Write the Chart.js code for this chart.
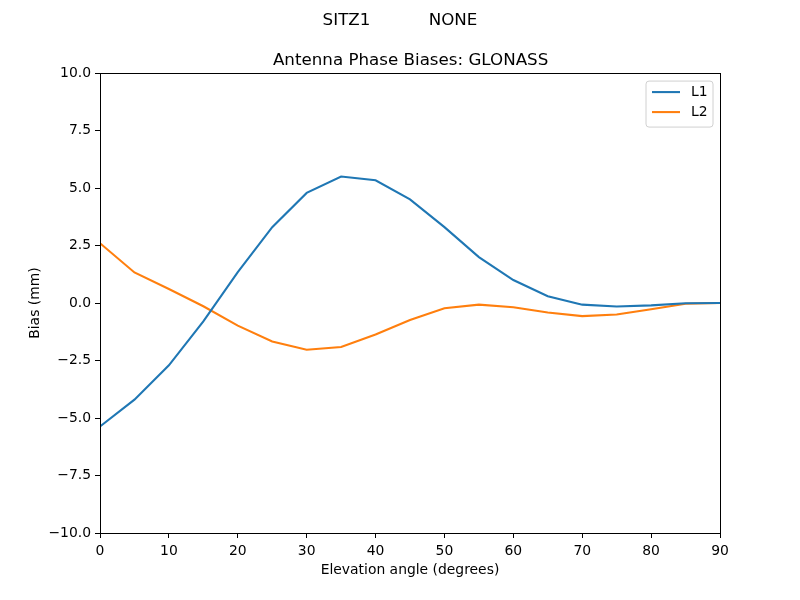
<!DOCTYPE html>
<html>
<head>
<meta charset="utf-8">
<script src="https://cdn.jsdelivr.net/npm/chart.js@4/dist/chart.umd.min.js"></script>
<style>
  html, body { margin: 0; padding: 0; background: #fff; }
  #wrap { width: 800px; height: 600px; }
</style>
</head>
<body>
<div id="wrap"><canvas id="bias-chart"></canvas></div>
<script>
// elevation angles (degrees)
let elevation = [0, 5, 10, 15, 20, 25, 30, 35, 40, 45, 50, 55, 60, 65, 70, 75, 80, 85, 90];

// bias values (mm)
let l1Bias = [-5.37, -4.20, -2.71, -0.80, 1.34, 3.30, 4.79, 5.50, 5.34, 4.51, 3.30, 2.00, 1.00, 0.30, -0.07, -0.15, -0.10, -0.01, 0.00];
let l2Bias = [2.60, 1.33, 0.61, -0.14, -0.98, -1.67, -2.03, -1.91, -1.37, -0.74, -0.23, -0.07, -0.18, -0.41, -0.57, -0.50, -0.27, -0.03, 0.00];

let seriesLabels = ['L1', 'L2'];
let seriesColors = ['#1f77b4', '#ff7f0e'];

let yTicks = [-10, -7.5, -5, -2.5, 0, 2.5, 5, 7.5, 10];
let xTicks = [0, 10, 20, 30, 40, 50, 60, 70, 80, 90];

let FONT = 'DejaVu Sans';

let toPoints = (xs, ys) => xs.map((x, i) => ({ x: x, y: ys[i] }));

// matplotlib-style frame and legend box drawn on top of the chart area
let frameAndLegend = {
  id: 'frameAndLegend',
  afterDraw(chart) {
    let ctx = chart.ctx;
    let a = chart.chartArea;
    ctx.save();
    ctx.strokeStyle = '#000';
    ctx.lineWidth = 1;
    ctx.strokeRect(Math.round(a.left) + 0.5, Math.round(a.top) + 0.5,
      Math.round(a.right - a.left), Math.round(a.bottom - a.top));

    // legend
    let w = 67, h = 46;
    let lx = a.right - 7 - w, ly = a.top + 8;
    ctx.beginPath();
    let r = 3;
    ctx.moveTo(lx + r, ly);
    ctx.arcTo(lx + w, ly, lx + w, ly + h, r);
    ctx.arcTo(lx + w, ly + h, lx, ly + h, r);
    ctx.arcTo(lx, ly + h, lx, ly, r);
    ctx.arcTo(lx, ly, lx + w, ly, r);
    ctx.closePath();
    ctx.fillStyle = 'rgba(255,255,255,0.8)';
    ctx.fill();
    ctx.strokeStyle = '#d0d0d0';
    ctx.stroke();

    ctx.font = '13.9px "' + FONT + '"';
    ctx.textBaseline = 'middle';
    chart.data.datasets.forEach((ds, i) => {
      let yy = ly + 11 + i * 20;
      ctx.beginPath();
      ctx.strokeStyle = ds.borderColor;
      ctx.lineWidth = 2.08;
      ctx.moveTo(lx + 6, yy);
      ctx.lineTo(lx + 34, yy);
      ctx.stroke();
      ctx.fillStyle = '#000';
      ctx.fillText(ds.label, lx + 45, yy);
    });
    ctx.restore();
  }
};

let fmtMinus = (v) => String(v).replace('-', '\u2212');

let blankAxis = (pos, width, weight) => ({
  type: 'linear',
  position: pos,
  display: true,
  weight: weight,
  afterFit: (scale) => { scale.width = width; },
  grid: { display: false },
  border: { display: false },
  ticks: { display: false },
});

new Chart(document.getElementById('bias-chart'), {
  type: 'line',
  data: {
    datasets: [
      {
        label: seriesLabels[0],
        data: toPoints(elevation, l1Bias),
        borderColor: seriesColors[0],
        backgroundColor: seriesColors[0],
        borderWidth: 2.08,
        pointRadius: 0,
        tension: 0,
      },
      {
        label: seriesLabels[1],
        data: toPoints(elevation, l2Bias),
        borderColor: seriesColors[1],
        backgroundColor: seriesColors[1],
        borderWidth: 2.08,
        pointRadius: 0,
        tension: 0,
      },
    ],
  },
  options: {
    responsive: true,
    maintainAspectRatio: false,
    animation: false,
    layout: { padding: 0 },
    plugins: {
      legend: { display: false },
      tooltip: { enabled: false },
      title: {
        display: true,
        text: 'SITZ1           NONE',
        color: '#000',
        font: { family: FONT, size: 16.7, weight: 'normal' },
        padding: { top: 11, bottom: 10 },
      },
      subtitle: {
        display: true,
        // leading spaces keep it centred over the axes rather than the page
        text: '    Antenna Phase Biases: GLONASS',
        color: '#000',
        font: { family: FONT, size: 16.7, weight: 'normal' },
        padding: { top: 10, bottom: 2 },
      },
    },
    scales: {
      x: {
        type: 'linear',
        min: 0,
        max: 90,
        afterBuildTicks: (scale) => { scale.ticks = xTicks.map(v => ({ value: v })); },
        afterFit: (scale) => { scale.height = 67; },
        grid: { display: true, drawOnChartArea: false, tickLength: 5, color: '#000', tickColor: '#000' },
        border: { display: true, color: '#000' },
        ticks: {
          color: '#000',
          font: { family: FONT, size: 13.9 },
          padding: 5,
          maxRotation: 0,
          callback: (v) => fmtMinus(v),
        },
        title: {
          display: true,
          text: 'Elevation angle (degrees)',
          color: '#000',
          font: { family: FONT, size: 13.9 },
          padding: { top: 0, bottom: 21 },
        },
      },
      y: {
        type: 'linear',
        min: -10,
        max: 10,
        weight: 0,
        afterBuildTicks: (scale) => { scale.ticks = yTicks.map(v => ({ value: v })); },
        afterFit: (scale) => { scale.width = 73; },
        grid: { display: true, drawOnChartArea: false, tickLength: 5, color: '#000', tickColor: '#000' },
        border: { display: true, color: '#000' },
        ticks: {
          color: '#000',
          font: { family: FONT, size: 13.9 },
          padding: 4,
          callback: (v) => fmtMinus(v.toFixed(1)),
        },
        title: {
          display: true,
          text: 'Bias (mm)',
          color: '#000',
          font: { family: FONT, size: 13.9 },
          padding: { top: 0, bottom: 0 },
        },
      },
      // empty strips so the figure margins match
      yLeftPad: blankAxis('left', 27, 5),
      yRight: blankAxis('right', 80, 0),
    },
  },
  plugins: [frameAndLegend],
});
</script>
</body>
</html>
